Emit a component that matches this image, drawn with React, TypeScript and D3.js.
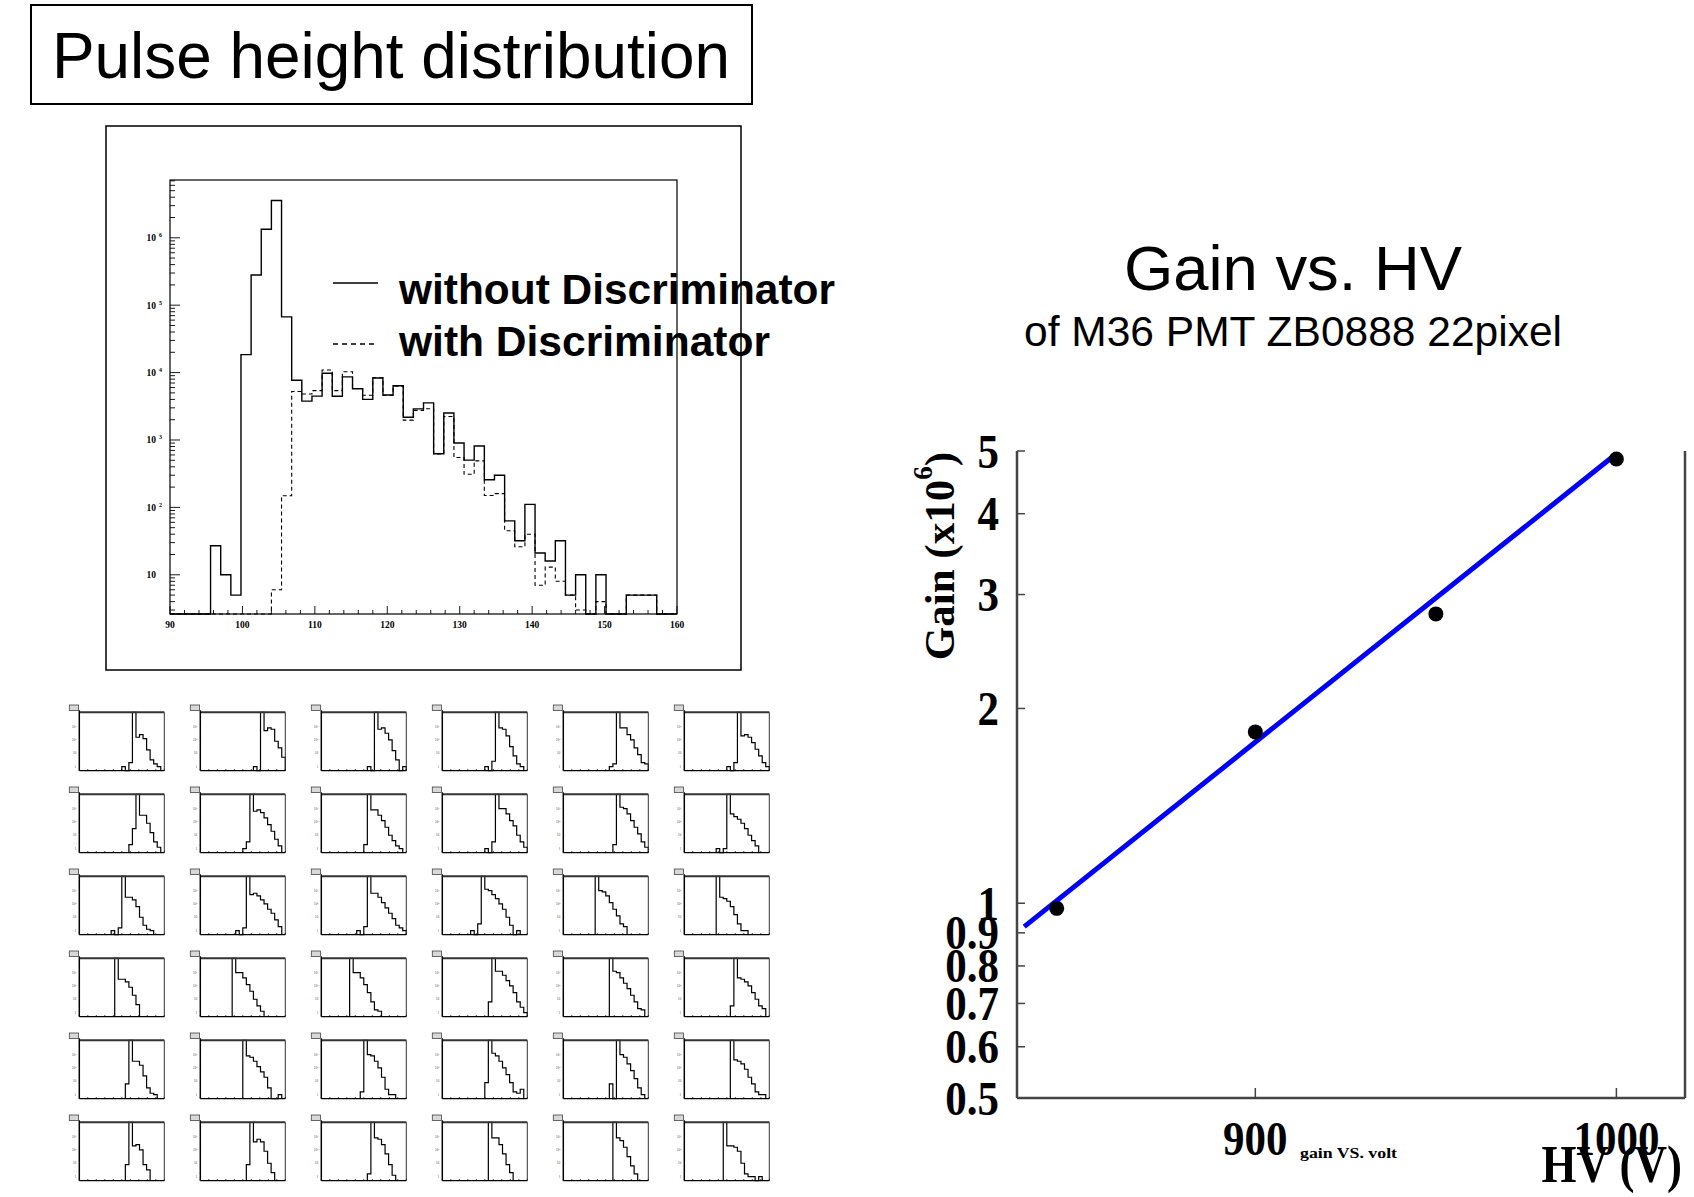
import React from 'react';
import * as d3 from 'd3';

// ---- pulse height distribution (50 bins, 90..160) ----
const phRange = [90, 160];
const phBins = 50;
const countsWithout = [
  0, 0, 0, 0, 27, 10, 5, 18500, 280000, 1340000,
  3580000, 67000, 7700, 3770, 4470, 9800, 4450, 8630, 5770, 4010,
  8320, 4640, 6370, 2180, 2890, 3550, 624, 2520, 900, 502,
  815, 257, 300, 63, 32, 111, 21, 16, 32, 5,
  10, 0, 10, 0, 0, 5, 5, 5, 0, 0,
];
const countsWith = [
  0, 0, 0, 0, 0, 0, 0, 0, 0, 0,
  6, 149, 5240, 4800, 5400, 10900, 5400, 10300, 5800, 4600,
  8400, 4600, 6300, 1970, 2750, 2900, 620, 2230, 550, 310,
  490, 150, 160, 45, 26, 40, 7, 13, 8, 5,
  3, 0, 4, 0, 0, 5, 5, 5, 0, 0,
];
const phXTicks = [90, 100, 110, 120, 130, 140, 150, 160];
const phDecades = [1, 2, 3, 4, 5, 6];

// ---- gain vs HV ----
const hv = [845, 900, 950, 1000];
const gain = [0.982, 1.84, 2.8, 4.86];
const fitHV = [836, 1000];
const fitGain = [0.92, 4.95];
const gainTicks = [0.5, 0.6, 0.7, 0.8, 0.9, 1, 2, 3, 4, 5];
const hvTicks = [900, 1000];

// ---- 36 pixel spectra: log10(counts) per coarse bin (24 bins), -1 = empty ----
const PANEL_BINS = 24;
const pixelStart = [
  12, 15, 13, 12, 13, 12,
  14, 12, 12, 12, 14, 9,
  9, 10, 10, 8, 9, 9,
  10, 9, 8, 13, 13, 13,
  13, 12, 11, 12, 13, 13,
  13, 13, 13, 13, 14, 11,
];
const pixelLogCounts = [
  [0, -1, 0.3, 4.5, 2.2, 2.4, 2.1, 1.25, 0.5, 0.2, 0],
  [0, -1, 4.5, 2.7, 2.9, 2.8, 1.9, 1.4, 0.7],
  [0, -1, 4.5, 2.8, 2.9, 2.5, 2.0, 1.2, 0.5, -1, 0],
  [0, -1, 0.4, 4.5, 2.9, 2.8, 2.3, 1.5, 0.8, 0.2, 0],
  [0, 0.2, 4.5, 2.9, 2.9, 2.4, 2.0, 1.4, 0.9, 0.3, 0.2],
  [0, -1, 0.3, 4.5, 2.3, 2.4, 2.2, 1.8, 1.3, 0.8, 0.3, 0],

  [0.3, 1.5, 4.5, 2.5, 2.5, 1.9, 1.2, 0.5, 0.1],
  [0, 0.5, 4.5, 2.8, 2.9, 2.7, 2.3, 1.8, 1.3, 0.7, 0.2],
  [0.3, 4.5, 2.9, 2.9, 2.5, 2.1, 1.6, 1.0, 0.6, 0.2, 0],
  [0, -1, 0.5, 4.5, 3.0, 3.0, 2.6, 2.1, 1.7, 1.0, 0.5, 0.1],
  [0.3, 4.5, 3.1, 3.0, 2.6, 2.1, 1.6, 1.1, 0.5, 0.1],
  [0, -1, 0, 4.5, 2.6, 2.4, 2.2, 1.9, 1.5, 1.0, 0.6, 0.2],

  [0, -1, 0.2, 4.5, 2.5, 2.5, 2.3, 1.8, 1.0, 0.4, 0.1, 0],
  [0, -1, 0.2, 4.5, 2.7, 2.8, 2.6, 2.3, 2.0, 1.6, 1.3, 0.8, 0.3],
  [0, -1, 0.3, 4.5, 2.8, 2.8, 2.5, 2.1, 1.7, 1.3, 0.9, 0.4, 0.2, 0],
  [0, -1, 0.5, 4.5, 3.1, 3.0, 2.7, 2.4, 2.0, 1.6, 1.0, 0.4, -1, 0],
  [4.5, 3.0, 2.9, 2.6, 2.1, 1.6, 1.1, 0.5, 0.3],
  [4.5, 2.5, 2.4, 2.2, 1.8, 1.2, 0.5, 0, 0],

  [4.5, 2.5, 2.5, 2.3, 1.9, 1.3, 0.6],
  [4.5, 3.0, 3.0, 2.6, 2.1, 1.6, 1.0, 0.5, 0.1],
  [4.5, 3.0, 3.0, 2.6, 2.1, 1.5, 0.8, 0.2, 0.1],
  [0.8, 4.5, 3.1, 3.1, 2.8, 2.4, 2.0, 1.5, 0.8, 0.4, 0],
  [4.5, 3.1, 3.0, 2.6, 2.2, 1.8, 1.3, 0.8, 0.3, 0.2],
  [0.5, 4.5, 2.6, 2.5, 2.3, 2.0, 1.5, 1.0, 0.5, 0.3],

  [0.8, 4.5, 2.5, 2.5, 2.2, 1.4, 0.5, 0.1, 0],
  [4.5, 2.9, 2.8, 2.5, 2.1, 1.7, 1.3, 0.5, -1, -1, 0],
  [0.2, 4.5, 3.0, 2.9, 2.5, 2.0, 1.3, 0.4, 0, 0],
  [0.9, 4.5, 3.1, 2.9, 2.5, 2.0, 1.5, 0.9, 0.2, 0.1, 0.4],
  [0.8, -1, 4.5, 3.0, 2.8, 2.3, 1.8, 1.2, 0.5, 0],
  [4.5, 2.6, 2.5, 2.3, 1.9, 1.3, 0.8, 0.2, 0, 0],

  [0.9, 4.5, 2.3, 2.4, 2.0, 0.9, 0.5],
  [0.9, 4.5, 2.6, 2.8, 2.6, 1.9, 1.0, 0.3],
  [0.2, 4.5, 2.9, 2.8, 2.4, 1.7, 0.9, 0.1],
  [4.5, 2.9, 2.9, 2.4, 1.7, 0.9, 0.3],
  [4.5, 2.9, 2.7, 2.2, 1.5, 0.8, 0.2],
  [4.5, 2.3, 2.3, 2.2, 1.9, 1.0, 0.2, 0, 0, -1, 0],
];
const panelYLabels = ['1', '10', '10²', '10³'];

const SANS = 'Liberation Sans, Arial, sans-serif';
const SERIF = 'Liberation Serif, Times New Roman, serif';

function histPath(counts: number[], x: d3.ScaleLinear<number, number>, y: d3.ScaleLogarithmic<number, number>, lo: number, width: number, bottom: number) {
  let d = `M${x(lo)},${bottom}`;
  counts.forEach((c, i) => {
    const yy = c > 0 ? y(c) : bottom;
    d += `V${yy}H${x(lo + (i + 1) * width)}`;
  });
  return d + `V${bottom}`;
}

function PulseHeight() {
  const L = 170, R = 677, T = 180, B = 614;
  const x = d3.scaleLinear().domain(phRange).range([L, R]);
  const y = d3.scaleLog().domain([2.62, 7.2e6]).range([B, T]).clamp(true);
  const bw = (phRange[1] - phRange[0]) / phBins;

  const yTicks: { v: number; major: boolean }[] = [];
  for (let d = 0; d <= 6; d++) {
    for (let k = 1; k <= 9; k++) {
      const v = k * Math.pow(10, d);
      if (v >= 2.62 && v <= 7.2e6) yTicks.push({ v, major: k === 1 });
    }
  }
  const xMinor = d3.range(phRange[0], phRange[1] + 0.1, 2);

  return (
    <g>
      <rect x={106} y={126} width={635} height={544} fill="none" stroke="#000" strokeWidth={1.5} />
      <rect x={L} y={T} width={R - L} height={B - T} fill="none" stroke="#000" strokeWidth={1.2} />
      {yTicks.map((t, i) => (
        <line key={i} x1={L} x2={L + (t.major ? 10 : 5)} y1={y(t.v)} y2={y(t.v)} stroke="#000" strokeWidth={0.9} />
      ))}
      {xMinor.map((v, i) => (
        <line key={i} x1={x(v)} x2={x(v)} y1={B} y2={B - (v % 10 === 0 ? 8 : 4)} stroke="#000" strokeWidth={0.9} />
      ))}
      {phDecades.map((d) => (
        <g key={d} fontFamily={SERIF} fontWeight="bold" fill="#000">
          <text x={L - 14} y={y(Math.pow(10, d)) + 3.5} fontSize={9.5} textAnchor="end">10</text>
          {d > 1 && <text x={L - 11} y={y(Math.pow(10, d)) - 0.5} fontSize={6}>{d}</text>}
        </g>
      ))}
      {phXTicks.map((v) => (
        <text key={v} x={x(v)} y={628} fontSize={9.5} fontFamily={SERIF} fontWeight="bold" textAnchor="middle">{v}</text>
      ))}
      <path d={histPath(countsWith, x, y, phRange[0], bw, B)} fill="none" stroke="#000" strokeWidth={1.1} strokeDasharray="4,3" />
      <path d={histPath(countsWithout, x, y, phRange[0], bw, B)} fill="none" stroke="#000" strokeWidth={1.4} />

      <line x1={333} x2={378} y1={283} y2={283} stroke="#000" strokeWidth={1.6} />
      <line x1={333} x2={378} y1={344} y2={344} stroke="#000" strokeWidth={1.4} strokeDasharray="5,4" />
      <text x={399} y={304} fontFamily={SANS} fontWeight="bold" fontSize={42} textLength={436} lengthAdjust="spacingAndGlyphs">without Discriminator</text>
      <text x={399} y={356} fontFamily={SANS} fontWeight="bold" fontSize={42} textLength={371} lengthAdjust="spacingAndGlyphs">with Discriminator</text>
    </g>
  );
}

function PixelPanel({ index }: { index: number }) {
  const r = Math.floor(index / 6), c = index % 6;
  const left = 79.3 + 121 * c, top = 712.3 + 82 * r;
  const w = 85, h = 58.3, bottom = top + h;
  const x = d3.scaleLinear().domain([0, PANEL_BINS]).range([left, left + w]);
  const y = d3.scaleLog().domain([Math.pow(10, -0.3), Math.pow(10, 4.07)]).range([bottom, top]).clamp(true);
  const start = pixelStart[index];
  const counts = pixelLogCounts[index].map((v) => (v < 0 ? 0 : Math.pow(10, v)));
  const ticks = d3.range(0, 11);
  return (
    <g>
      <path d={histPath(counts, x, y, start, 1, bottom)} fill="none" stroke="#000" strokeWidth={1.2} />
      <line x1={left} x2={left + w} y1={top} y2={top} stroke="#333" strokeWidth={2} />
      <line x1={left + w} x2={left + w} y1={top} y2={bottom} stroke="#333" strokeWidth={1} />
      <line x1={left} x2={left + w} y1={bottom} y2={bottom} stroke="#000" strokeWidth={1.3} />
      <line x1={left} x2={left} y1={top - 2} y2={bottom} stroke="#000" strokeWidth={1.5} />
      {ticks.map((t) => (
        <line key={t} x1={left + (w * t) / 10} x2={left + (w * t) / 10} y1={bottom} y2={bottom - 1.6} stroke="#000" strokeWidth={0.7} />
      ))}
      {panelYLabels.map((lab, k) => (
        <text key={k} x={left - 3} y={y(Math.pow(10, k)) + 1.2} fontSize={3.5} fontFamily={SERIF} textAnchor="end" fill="#555">{lab}</text>
      ))}
      <rect x={left - 10} y={top - 7.3} width={9.3} height={5.6} fill="#d8d8d8" stroke="#444" strokeWidth={0.8} />
    </g>
  );
}

// tall, condensed-looking bold serif labels like the reference
function TallLabel({ x, y, size, anchor, children }: { x: number; y: number; size: number; anchor: string; children: React.ReactNode }) {
  return (
    <text transform={`translate(${x},${y}) scale(1,1.15)`} fontFamily={SERIF} fontWeight="bold" fontSize={size} textAnchor={anchor}>
      {children}
    </text>
  );
}

function GainPlot() {
  const L = 1017, R = 1685, T = 451, B = 1098;
  const x = d3.scaleLinear().domain([834, 1019]).range([L, R]);
  const y = d3.scaleLog().domain([0.5, 5]).range([B, T]);
  const fit = d3.line<number>().x((v) => x(v)).y((_, i) => y(fitGain[i]));
  return (
    <g>
      <text x={1293} y={290} fontFamily={SANS} fontSize={63} textAnchor="middle" textLength={338} lengthAdjust="spacingAndGlyphs">Gain vs. HV</text>
      <text x={1293} y={346} fontFamily={SANS} fontSize={42} textAnchor="middle" textLength={538} lengthAdjust="spacingAndGlyphs">of M36 PMT ZB0888 22pixel</text>

      <line x1={L} x2={L} y1={T} y2={B} stroke="#444" strokeWidth={2.5} />
      <line x1={L} x2={R} y1={B} y2={B} stroke="#444" strokeWidth={2.5} />
      <line x1={R} x2={R} y1={T} y2={B} stroke="#444" strokeWidth={2.5} />
      {gainTicks.map((v) => (
        <g key={v}>
          <line x1={L} x2={L + 8} y1={y(v)} y2={y(v)} stroke="#444" strokeWidth={1.5} />
          <TallLabel x={999} y={y(v) + 16.5} size={43} anchor="end">{v}</TallLabel>
        </g>
      ))}
      {hvTicks.map((v) => (
        <g key={v}>
          <line x1={x(v)} x2={x(v)} y1={B} y2={B - 10} stroke="#444" strokeWidth={1.5} />
          <TallLabel x={x(v)} y={1155} size={43} anchor="middle">{v}</TallLabel>
        </g>
      ))}
      <text x={1300} y={1158} fontFamily={SERIF} fontWeight="bold" fontSize={14} textLength={97} lengthAdjust="spacingAndGlyphs">gain VS. volt</text>
      <TallLabel x={1682} y={1182} size={45} anchor="end">HV (V)</TallLabel>

      <text transform={`translate(954,452) rotate(-90)`} fontFamily={SERIF} fontWeight="bold" fontSize={43} textAnchor="end">
        Gain (x10<tspan fontSize={27} dy={-22}>6</tspan><tspan dy={22}>)</tspan>
      </text>

      <path d={fit(fitHV) || ''} fill="none" stroke="#0000ff" strokeWidth={5} />
      {hv.map((v, i) => (
        <circle key={v} cx={x(v)} cy={y(gain[i])} r={7.5} fill="#000" />
      ))}
    </g>
  );
}

export default function App() {
  return (
    <div style={{ position: 'absolute', left: 0, top: 0 }}>
      <svg width={1694} height={1197} style={{ display: 'block', background: '#fff' }}>
        <rect x={31} y={5} width={721} height={99} fill="none" stroke="#000" strokeWidth={2} />
        <text x={52} y={78} fontFamily={SANS} fontSize={64} textLength={678} lengthAdjust="spacingAndGlyphs">Pulse height distribution</text>
        <PulseHeight />
        {pixelLogCounts.map((_, i) => (
          <PixelPanel key={i} index={i} />
        ))}
        <GainPlot />
      </svg>
    </div>
  );
}
